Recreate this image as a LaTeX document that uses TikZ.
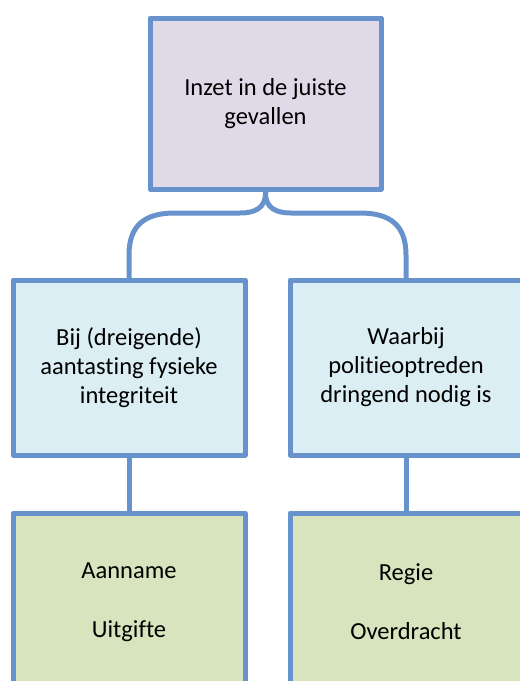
\documentclass[tikz,border=0pt]{standalone}
\usepackage{fontspec}
\setmainfont{Carlito}[Ligatures=NoCommon]
\definecolor{bordc}{RGB}{104,146,204}
\definecolor{topfill}{RGB}{224,218,232}
\definecolor{midfill}{RGB}{219,238,244}
\definecolor{botfill}{RGB}{215,228,189}
\begin{document}
\begin{tikzpicture}[x=1pt,y=1pt,
  box/.style={draw=bordc, line width=5pt, line join=round, inner sep=0pt, outer sep=0pt,
    align=center, font=\fontsize{24.5}{29}\selectfont, text=black},
  link/.style={draw=bordc, line width=5pt}]
\useasboundingbox (0,0) rectangle (520,-681);
\clip (0,0) rectangle (520,-681);
\node[box, fill=topfill, minimum width=231pt, minimum height=171pt] (top) at (265.5,-103.5) {Inzet in de juiste\\gevallen};
\node[box, fill=midfill, minimum width=232pt, minimum height=175pt] (lm) at (129,-367.5) {Bij (dreigende)\\aantasting fysieke\\integriteit};
\node[box, fill=midfill, minimum width=232pt, minimum height=175pt] (rm) at (406,-367.5) {Waarbij\\politieoptreden\\dringend nodig is};
\node[box, fill=botfill, minimum width=232pt, minimum height=178pt] (lb) at (129,-602) {Aanname\\[30pt]Uitgifte};
\node[box, fill=botfill, minimum width=232pt, minimum height=178pt] (rb) at (406,-602) {Regie\\[30pt]Overdracht};
\draw[link] (top.south) -- ++(0,-4) .. controls (265.5,-208) and (255,-213) .. (240,-213) -- (175,-213) .. controls (145,-213) and (129,-225) .. (129,-255) -- (lm.north);
\draw[link] (top.south) -- ++(0,-4) .. controls (265.5,-208) and (276,-213) .. (291,-213) -- (360,-213) .. controls (390,-213) and (406,-225) .. (406,-255) -- (rm.north);
\draw[link] (lm.south) -- (lb.north);
\draw[link] (rm.south) -- (rb.north);
\end{tikzpicture}
\end{document}
